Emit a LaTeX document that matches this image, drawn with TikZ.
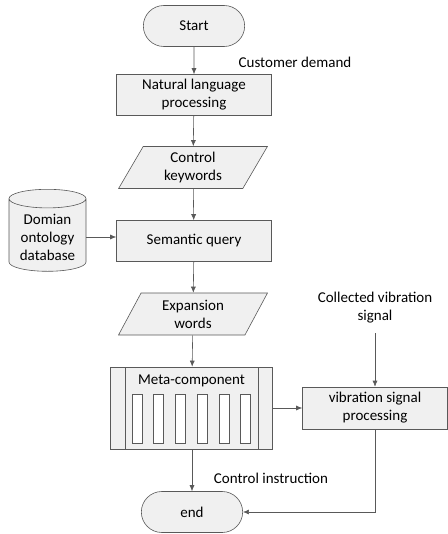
\documentclass[tikz,border=0pt]{standalone}
\usepackage{fontspec}
\setmainfont{Carlito}
\usetikzlibrary{arrows.meta}
\usetikzlibrary{shapes.geometric, shapes.misc}

\begin{document}
\begin{tikzpicture}[
		x=1pt,y=-1pt,
		>={Latex[length=6pt,width=5pt]},
		line width=0.6pt,
		every node/.style={font=\fontsize{15}{18}\selectfont, align=center},
		box/.style={draw=black!65, fill=black!6, minimum width=155pt, minimum height=41pt},
		term/.style={box, rounded rectangle, minimum width=108pt},
		io/.style={box, trapezium, trapezium left angle=67, trapezium right angle=113,
			trapezium stretches=true, minimum width=150pt, minimum height=42pt},
		db/.style={box, cylinder, shape border rotate=90, aspect=0.3,
			minimum width=77pt, minimum height=82pt},
		slot/.style={draw=black!65, fill=white, minimum width=10pt, minimum height=49pt, inner sep=0pt},
		link/.style={->, draw=black!65},
	]
	\useasboundingbox (0,0) rectangle (447,534);

	\node[term] (start) at (194,26) {Start};
	\node[box] (nlp) at (194,95) {Natural language\\processing};
	\node[io] (kw) at (193,167.5) {Control\\keywords};
	\node[box] (sq) at (194,241) {Semantic query};
	\node[db] (onto) at (47.5,237) {Domian\\ontology\\database};
	\node[io] (ew) at (193,314) {Expansion\\words};

	% meta-component block
	\node[box, minimum width=162pt, minimum height=82pt] (meta) at (191.5,408) {};
	\draw[draw=black!65] (125.5,367) -- (125.5,449) (258.5,367) -- (258.5,449);
	\node (metatxt) at (191.5,381) {Meta-component};
	\foreach \i in {0,...,5}{
		\node[slot] (slot\i) at ({137+21.7*\i},418.5) {};
	}

	\node[box, minimum width=145pt, minimum height=42pt] (vib) at (375,408) {vibration signal\\processing};
	\node (col) at (375,308) {Collected vibration\\signal};
	\node[term] (end) at (192,512) {end};

	\node (cd) at (295,62) {Customer demand};
	\node (ci) at (271,478) {Control instruction};

	\draw[link] (start) -- (nlp);
	\draw[link] (nlp) -- (kw);
	\draw[link] (kw) -- (sq);
	\draw[link] (onto.east) -- (onto.east -| sq.west);
	\draw[link] (sq) -- (ew);
	\draw[link] (ew) -- (meta);
	\draw[link] (meta) -- (vib);
	\draw[link, shorten <=6pt] (col.south) -- (vib.north);
	\draw[link] (meta.south -| end.north) -- (end.north);
	\draw[link] (vib.south) |- (end.east);
\end{tikzpicture}
\end{document}
